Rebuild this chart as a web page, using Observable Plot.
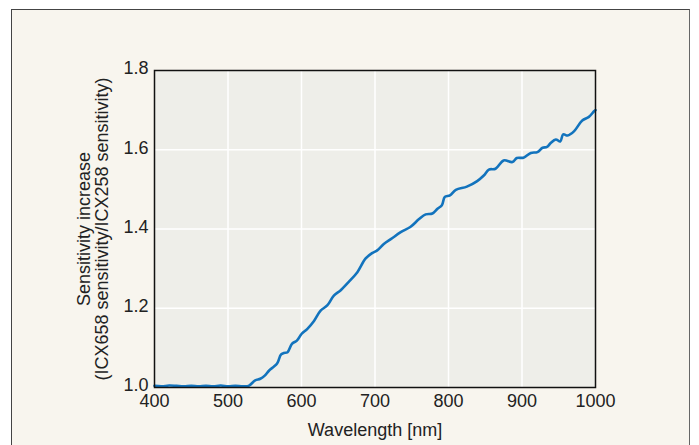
<!DOCTYPE html>
<html>
<head>
<meta charset="utf-8">
<script src="https://cdn.jsdelivr.net/npm/d3@7"></script>
<script src="https://cdn.jsdelivr.net/npm/@observablehq/plot@0.6"></script>
<style>
  html, body { margin: 0; padding: 0; background: #ffffff; }
  #wrap { position: relative; width: 699px; height: 445px; overflow: hidden; }
  #panel { position: absolute; left: 11px; top: 9px; width: 677px; height: 460px;
           background: #f8f5ee; border-left: 1.5px solid #444; border-top: 1.5px solid #444; border-right: 1.5px solid #666; }
  #chart { position: absolute; left: 0; top: 0; }
</style>
</head>
<body>
<div id="wrap"><div id="panel"></div><div id="chart"></div></div>
<script>
const wavelengths = [400,410,420,430,440,450,460,470,480,490,500,510,520,528,537,544,550,556,562,567,572,576,581,587,594,600,608,617,626,635,644,653,664,676,687,696,703,712,722,735,748,760,769,778,785,791,795,802,810,825,839,848,855,864,875,887,893,902,912,921,928,934,939,946,952,956,962,971,982,991,998,1000];
const ratio = [1.004,1.003,1.005,1.004,1.003,1.004,1.003,1.004,1.003,1.005,1.003,1.004,1.003,1.004,1.018,1.022,1.030,1.043,1.052,1.061,1.083,1.087,1.089,1.110,1.119,1.135,1.148,1.168,1.194,1.207,1.232,1.245,1.266,1.291,1.325,1.339,1.346,1.362,1.375,1.392,1.405,1.425,1.437,1.439,1.451,1.460,1.481,1.485,1.499,1.507,1.521,1.535,1.550,1.552,1.573,1.569,1.579,1.580,1.592,1.594,1.605,1.607,1.617,1.626,1.621,1.639,1.636,1.647,1.674,1.683,1.697,1.700];
const xTicks = [400,500,600,700,800,900,1000];
const yTicks = [1.0,1.2,1.4,1.6,1.8];
const yLabel = "Sensitivity increase\n(ICX658 sensitivity/ICX258 sensitivity)";
const xLabel = "Wavelength [nm]";

const data = wavelengths.map((w, i) => ({w, v: ratio[i]}));

const chart = Plot.plot({
  width: 699,
  height: 445,
  marginLeft: 154,
  marginRight: 104,
  marginTop: 70,
  marginBottom: 58,
  style: {background: "transparent", fontFamily: "Liberation Sans, Arial, sans-serif", fontSize: "18px", color: "#222"},
  x: {domain: [400, 1000]},
  y: {domain: [1.0, 1.8]},
  marks: [
    Plot.frame({fill: "#eeeee9", stroke: null}),
    Plot.gridX(xTicks.slice(1, -1), {stroke: "#ffffff", strokeOpacity: 1, strokeWidth: 1.5}),
    Plot.gridY(yTicks.slice(1, -1), {stroke: "#ffffff", strokeOpacity: 1, strokeWidth: 1.5}),
    Plot.line(data, {x: "w", y: "v", stroke: "#1273bd", strokeWidth: 2.6, curve: "catmull-rom"}),
    Plot.frame({stroke: "#111", strokeWidth: 1.5}),
    Plot.axisX(xTicks, {tickSize: 0, tickPadding: 7, fontSize: 18, label: null, fill: "#222", tickFormat: d3.format("d")}),
    Plot.axisY(yTicks, {tickSize: 0, tickPadding: 6, dy: -2, fontSize: 18, label: null, tickFormat: d3.format(".1f"), fill: "#222"}),
    Plot.text([xLabel], {frameAnchor: "bottom", dy: 48, fontSize: 18, fill: "#222"}),
    Plot.text([yLabel], {frameAnchor: "left", dx: -61, rotate: -90, fontSize: 18, lineHeight: 1.0, fill: "#222", textAnchor: "middle"})
  ]
});
document.getElementById("chart").appendChild(chart);
</script>
</body>
</html>
